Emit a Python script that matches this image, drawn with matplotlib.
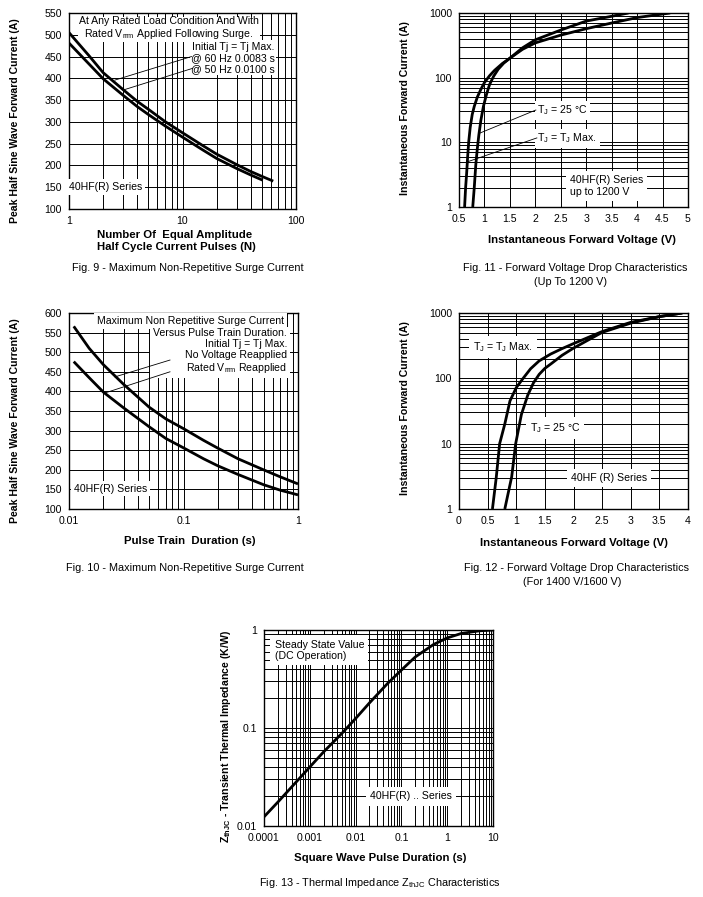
"""
40HF(R) series diode datasheet curves, Fig. 9 - Fig. 13
"""

import matplotlib
matplotlib.use("Agg")
import matplotlib.pyplot as plt
from matplotlib.ticker import LogLocator, NullFormatter
import numpy as np

plt.rcParams['font.family'] = ['Liberation Sans', 'DejaVu Sans']
plt.rcParams['mathtext.fontset'] = 'custom'
plt.rcParams['mathtext.rm'] = 'Liberation Sans'
plt.rcParams['mathtext.bf'] = 'Liberation Sans:bold'
plt.rcParams['mathtext.it'] = 'Liberation Sans'
plt.rcParams['mathtext.default'] = 'rm'

W, H = 703, 897
FS = 7.6

# ---- Fig. 9: surge current vs number of pulses
fig9_n_60hz = [1, 1.5, 2, 3, 4, 5, 7, 10, 15, 20, 30, 40, 50, 63]
fig9_i_60hz = [505, 452, 413, 374, 347, 329, 301, 275, 246, 226, 202, 186, 175, 164]
fig9_n_50hz = [1, 1.5, 2, 3, 4, 5, 7, 10, 15, 20, 30, 40, 51]
fig9_i_50hz = [481, 433, 399, 361, 335, 317, 291, 265, 236, 216, 193, 178, 166]

# ---- Fig. 10: surge current vs pulse train duration
fig10_t = [0.011, 0.015, 0.02, 0.03, 0.05, 0.07, 0.1, 0.15, 0.2, 0.3, 0.5, 0.7, 1.0]
fig10_i_novolt = [566, 510, 468, 418, 360, 330, 305, 275, 255, 228, 200, 182, 164]
fig10_i_rated = [476, 435, 398, 358, 310, 280, 256, 228, 210, 188, 162, 148, 136]

# ---- Fig. 11: forward voltage drop (up to 1200 V)
fig11_v_tjmax = [0.61, 0.63, 0.65, 0.67, 0.69, 0.72, 0.76, 0.8, 0.86, 0.93, 1.0, 1.1, 1.2, 1.35,
                 1.5, 1.75, 2.0, 2.5, 3.0, 3.5, 4.0, 4.65]
fig11_i_tjmax = [1, 2, 3.3, 6, 10, 17, 27, 36, 50, 66, 84, 107, 130, 165,
                 200, 275, 345, 455, 572, 700, 850, 1000]
fig11_v_25c = [0.77, 0.8, 0.83, 0.86, 0.89, 0.93, 0.98, 1.04, 1.1, 1.18, 1.27, 1.38, 1.5,
               1.75, 2.0, 2.5, 3.0, 3.5, 3.83]
fig11_i_25c = [1, 2, 4.5, 8, 13, 22, 36, 55, 78, 105, 135, 168, 200,
               290, 385, 545, 750, 890, 1000]

# ---- Fig. 12: forward voltage drop (1400 V / 1600 V)
fig12_v_tjmax = [0.584, 0.65, 0.71, 0.80, 0.89, 1.0, 1.12, 1.25, 1.4, 1.6, 1.8, 2.0, 2.5, 3.0, 3.5, 3.9]
fig12_i_tjmax = [1, 3, 10, 20, 45, 72, 100, 140, 185, 235, 285, 340, 520, 720, 880, 1000]
fig12_v_25c = [0.80, 0.92, 0.99, 1.09, 1.2, 1.3, 1.4, 1.5, 1.62, 1.8, 2.0, 2.5, 3.0, 3.5, 3.9]
fig12_i_25c = [1, 3.1, 10, 28, 55, 85, 115, 142, 170, 225, 290, 505, 700, 880, 1000]

# ---- Fig. 13: transient thermal impedance
fig13_t = [1e-4, 2e-4, 5e-4, 1e-3, 2e-3, 5e-3, 1e-2, 2e-2, 5e-2, 0.1, 0.2, 0.5, 1, 2, 5, 10]
fig13_z = [0.0124, 0.0175, 0.028, 0.040, 0.057, 0.088, 0.125, 0.18, 0.285, 0.39, 0.53, 0.71, 0.83, 0.92, 0.98, 1.0]


def px_axes(left, top, right, bottom):
    return [left / W, 1 - bottom / H, (right - left) / W, (bottom - top) / H]


def ftext(x, y, s, **kw):
    kw.setdefault('fontsize', FS)
    kw.setdefault('ha', 'center')
    kw.setdefault('va', 'center')
    fig.text(x / W, 1 - y / H, s, **kw)


def style(ax):
    for sp in ax.spines.values():
        sp.set_linewidth(1.0)
        sp.set_color('black')
    ax.tick_params(which='both', length=0, labelsize=FS, pad=5)
    ax.set_axisbelow(True)


def log_grid(axis):
    axis.set_major_locator(LogLocator(base=10, numticks=20))
    axis.set_minor_locator(LogLocator(base=10, subs=np.arange(2, 10), numticks=50))
    axis.set_minor_formatter(NullFormatter())


def note(ax, x, y, s, pad=2.0, z=3, **kw):
    kw.setdefault('fontsize', FS)
    kw.setdefault('va', 'center')
    box = dict(facecolor='white', edgecolor='none', pad=pad)
    ax.text(x, y, s, bbox=box, zorder=z, **kw)


def leader(ax, xs, ys):
    ax.plot(xs, ys, color='black', lw=0.6, zorder=3.5, clip_on=False)


GRID = dict(color='black', lw=0.7)
CURVE = dict(color='black', lw=2.0, zorder=4, solid_capstyle='butt')

fig = plt.figure(figsize=(W / 100, H / 100), dpi=100)

# ================= Fig. 9
ax = fig.add_axes(px_axes(69, 13, 296, 209))
style(ax)
ax.set_xscale('log')
ax.set_xlim(1, 100)
ax.set_ylim(100, 550)
log_grid(ax.xaxis)
ax.set_yticks(np.arange(100, 551, 50))
ax.set_xticks([1, 10, 100])
ax.set_xticklabels(['1', '10', '100'])
ax.grid(True, axis='x', which='both', **GRID)
ax.grid(True, axis='y', which='major', **GRID)
ax.plot(fig9_n_60hz, fig9_i_60hz, **CURVE)
ax.plot(fig9_n_50hz, fig9_i_50hz, **CURVE)
note(ax, 65, 447, 'Initial Tj = Tj Max.\n@ 60 Hz 0.0083 s\n@ 50 Hz 0.0100 s', ha='right',
     linespacing=1.15, multialignment='right', pad=1.0)
note(ax, 7.6, 515, 'At Any Rated Load Condition And With\nRated V$_{rrm}$ Applied Following Surge.',
     ha='center', linespacing=1.1, pad=0.8, z=3.2)
leader(ax, [12.0, 2.54], [450, 396])
leader(ax, [12.3, 2.99], [423, 373])
note(ax, 2.1, 150, '40HF(R) Series', ha='center')
ftext(15, 121, 'Peak Half Sine Wave Forward Current (A)', rotation=90, fontweight='bold')
ftext(97, 241, 'Number Of  Equal Amplitude\nHalf Cycle Current Pulses (N)', ha='left',
      fontweight='bold', fontsize=8.2, linespacing=1.15)
ftext(188, 268, 'Fig. 9 - Maximum Non-Repetitive Surge Current', fontsize=7.8)

# ================= Fig. 10
ax = fig.add_axes(px_axes(69, 313, 298, 509))
style(ax)
ax.set_xscale('log')
ax.set_xlim(0.01, 1)
ax.set_ylim(100, 600)
log_grid(ax.xaxis)
ax.set_yticks(np.arange(100, 601, 50))
ax.set_xticks([0.01, 0.1, 1])
ax.set_xticklabels(['0.01', '0.1', '1'])
ax.grid(True, axis='x', which='both', **GRID)
ax.grid(True, axis='y', which='major', **GRID)
ax.plot(fig10_t, fig10_i_novolt, **CURVE)
ax.plot(fig10_t, fig10_i_rated, **CURVE)
note(ax, 0.115, 580, 'Maximum Non Repetitive Surge Current', ha='center')
note(ax, 0.80, 502, 'Versus Pulse Train Duration.\nInitial Tj = Tj Max.\nNo Voltage Reapplied\n'
     'Rated V$_{rrm}$ Reapplied', ha='right', multialignment='right', linespacing=1.12)
leader(ax, [0.0762, 0.0252], [480, 437])
leader(ax, [0.0762, 0.0206], [450, 396])
note(ax, 0.023, 152, '40HF(R) Series', ha='center')
ftext(15, 421, 'Peak Half Sine Wave Forward Current (A)', rotation=90, fontweight='bold')
ftext(190, 541, 'Pulse Train  Duration (s)', fontweight='bold', fontsize=8.2)
ftext(185, 568, 'Fig. 10 - Maximum Non-Repetitive Surge Current', fontsize=7.8)

# ================= Fig. 11
ax = fig.add_axes(px_axes(459, 13, 688, 207))
style(ax)
ax.set_yscale('log')
ax.set_xlim(0.5, 5)
ax.set_ylim(1, 1000)
log_grid(ax.yaxis)
ax.set_xticks(np.arange(0.5, 5.01, 0.5))
ax.set_xticklabels(['0.5', '1', '1.5', '2', '2.5', '3', '3.5', '4', '4.5', '5'])
ax.set_yticks([1, 10, 100, 1000])
ax.set_yticklabels(['1', '10', '100', '1000'])
ax.grid(True, axis='y', which='both', **GRID)
ax.grid(True, axis='x', which='major', **GRID)
ax.plot(fig11_v_tjmax, fig11_i_tjmax, **CURVE)
ax.plot(fig11_v_25c, fig11_i_25c, **CURVE)
note(ax, 2.04, 31, 'T$_J$ = 25 °C', ha='left')
note(ax, 2.04, 11.5, 'T$_J$ = T$_J$ Max.', ha='left')
leader(ax, [2.01, 0.91], [31.6, 13.9])
leader(ax, [2.03, 0.657], [11.7, 4.97])
note(ax, 2.68, 2.1, '40HF(R) Series\nup to 1200 V', ha='left', linespacing=1.3, pad=3)
ftext(405, 108, 'Instantaneous Forward Current (A)', rotation=90, fontweight='bold')
ftext(582, 240, 'Instantaneous Forward Voltage (V)', fontweight='bold', fontsize=8.2)
ftext(575, 268, 'Fig. 11 - Forward Voltage Drop Characteristics', fontsize=7.8)
ftext(570, 282, '(Up To 1200 V)', fontsize=7.8)

# ================= Fig. 12
ax = fig.add_axes(px_axes(459, 313, 688, 509))
style(ax)
ax.set_yscale('log')
ax.set_xlim(0, 4)
ax.set_ylim(1, 1000)
log_grid(ax.yaxis)
ax.set_xticks(np.arange(0, 4.01, 0.5))
ax.set_xticklabels(['0', '0.5', '1', '1.5', '2', '2.5', '3', '3.5', '4'])
ax.set_yticks([1, 10, 100, 1000])
ax.set_yticklabels(['1', '10', '100', '1000'])
ax.grid(True, axis='y', which='both', **GRID)
ax.grid(True, axis='x', which='major', **GRID)
ax.plot(fig12_v_tjmax, fig12_i_tjmax, **CURVE)
ax.plot(fig12_v_25c, fig12_i_25c, **CURVE)
note(ax, 0.24, 300, 'T$_J$ = T$_J$ Max.', ha='left', pad=3)
note(ax, 1.24, 17.5, 'T$_J$ = 25 °C', ha='left', pad=3)
note(ax, 2.62, 3.0, '40HF (R) Series', ha='center', pad=3)
ftext(405, 408, 'Instantaneous Forward Current (A)', rotation=90, fontweight='bold')
ftext(574, 543, 'Instantaneous Forward Voltage (V)', fontweight='bold', fontsize=8.2)
ftext(577, 568, 'Fig. 12 - Forward Voltage Drop Characteristics', fontsize=7.8)
ftext(572, 582, '(For 1400 V/1600 V)', fontsize=7.8)

# ================= Fig. 13
ax = fig.add_axes(px_axes(264, 630, 493, 826))
style(ax)
ax.set_xscale('log')
ax.set_yscale('log')
ax.set_xlim(1e-4, 10)
ax.set_ylim(0.01, 1)
log_grid(ax.xaxis)
log_grid(ax.yaxis)
ax.set_xticks([1e-4, 1e-3, 1e-2, 0.1, 1, 10])
ax.set_xticklabels(['0.0001', '0.001', '0.01', '0.1', '1', '10'])
ax.set_yticks([0.01, 0.1, 1])
ax.set_yticklabels(['0.01', '0.1', '1'])
ax.grid(True, which='both', **GRID)
ax.plot(fig13_t, fig13_z, **CURVE)
note(ax, 1.7e-4, 0.62, 'Steady State Value\n(DC Operation)', ha='left', linespacing=1.2, pad=3)
note(ax, 0.16, 0.02, '40HF(R) .. Series', ha='center', pad=3)
ftext(226, 737, 'Z$_{\\mathbf{thJC}}$ - Transient Thermal Impedance (K/W)', rotation=90,
      fontweight='bold')
ftext(380, 858, 'Square Wave Pulse Duration (s)', fontweight='bold', fontsize=8.2)
ftext(380, 883, 'Fig. 13 - Thermal Impedance Z$_{thJC}$ Characteristics', fontsize=7.8)

fig.savefig('out.png', dpi=100, facecolor='white')
